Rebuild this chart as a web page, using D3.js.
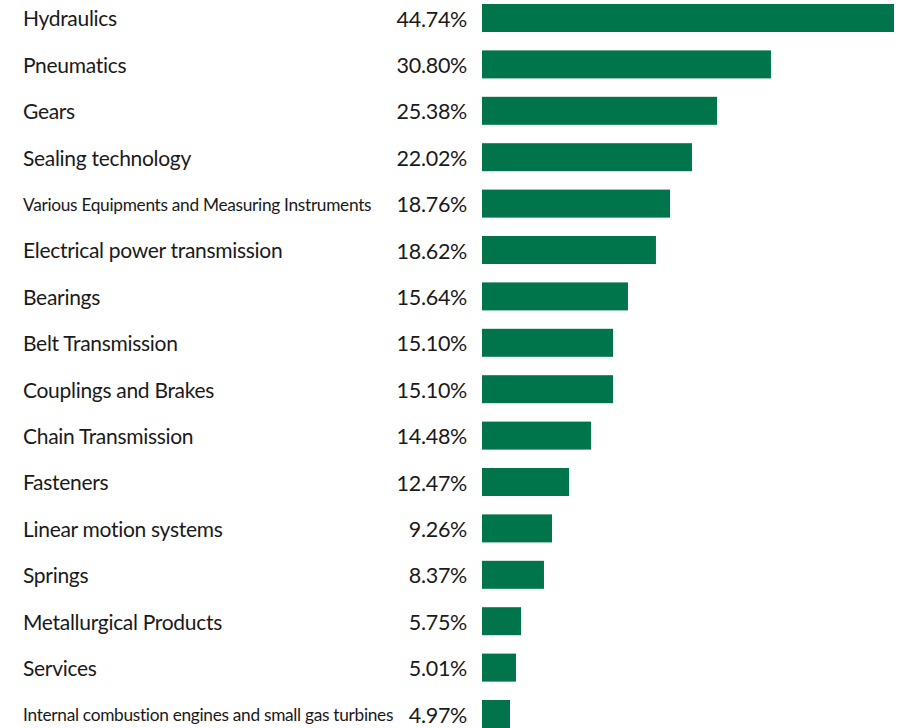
<!DOCTYPE html>
<html>
<head>
<meta charset="utf-8">
<script src="https://cdn.jsdelivr.net/npm/d3@7"></script>
<style>
  html, body { margin: 0; padding: 0; background: #fff; }
  svg { display: block; }
  text { font-family: Lato, "Open Sans", sans-serif; fill: #1a1a1a; }
</style>
</head>
<body>
<svg id="chart" width="901" height="728"></svg>
<script>
// Categories, top to bottom
const categories = [
  "Hydraulics", "Pneumatics", "Gears", "Sealing technology",
  "Various Equipments and Measuring Instruments", "Electrical power transmission",
  "Bearings", "Belt Transmission", "Couplings and Brakes", "Chain Transmission",
  "Fasteners", "Linear motion systems", "Springs", "Metallurgical Products",
  "Services", "Internal combustion engines and small gas turbines"
];
// Printed value labels (%)
const labelValues = [44.74, 30.80, 25.38, 22.02, 18.76, 18.62, 15.64, 15.10, 15.10, 14.48,
  12.47, 9.26, 8.37, 5.75, 5.01, 4.97];
// Bar lengths as drawn in the picture (% units)
const barValues = [44.74, 31.38, 25.52, 22.80, 20.42, 18.89, 15.85, 14.23, 14.23, 11.84,
  9.45, 7.60, 6.73, 4.24, 3.69, 3.04];
// Categories with a smaller label font
const smallLabels = ["Various Equipments and Measuring Instruments",
  "Internal combustion engines and small gas turbines"];

const svg = d3.select("#chart");
const x0 = 482;
const x = d3.scaleLinear().domain([0, 44.74]).range([x0, 894]);
const y = d3.scaleBand().domain(categories).range([-5.2, 737.2]).paddingInner(18.4/46.4).paddingOuter(18.4/46.4/2);

const rows = categories.map((c, i) => ({ c, v: labelValues[i], b: barValues[i] }));

svg.selectAll("rect.bar").data(rows).join("rect")
  .attr("class", "bar")
  .attr("x", x(0))
  .attr("y", d => y(d.c))
  .attr("width", d => x(d.b) - x(0))
  .attr("height", y.bandwidth())
  .attr("fill", "#00754B");

svg.selectAll("text.cat").data(rows).join("text")
  .attr("class", "cat")
  .attr("x", 23)
  .attr("y", d => y(d.c) + y.bandwidth() / 2)
  .attr("dy", "0.4em")
  .style("font-size", d => smallLabels.includes(d.c) ? "17.3px" : "21px")
  .style("letter-spacing", "-0.3px")
  .text(d => d.c);

svg.selectAll("text.val").data(rows).join("text")
  .attr("class", "val")
  .attr("x", 467)
  .attr("y", d => y(d.c) + y.bandwidth() / 2)
  .attr("dy", "0.4em")
  .attr("text-anchor", "end")
  .style("font-size", "21.5px")
  .style("letter-spacing", "-0.3px")
  .text(d => d.v.toFixed(2) + "%");
</script>
</body>
</html>
